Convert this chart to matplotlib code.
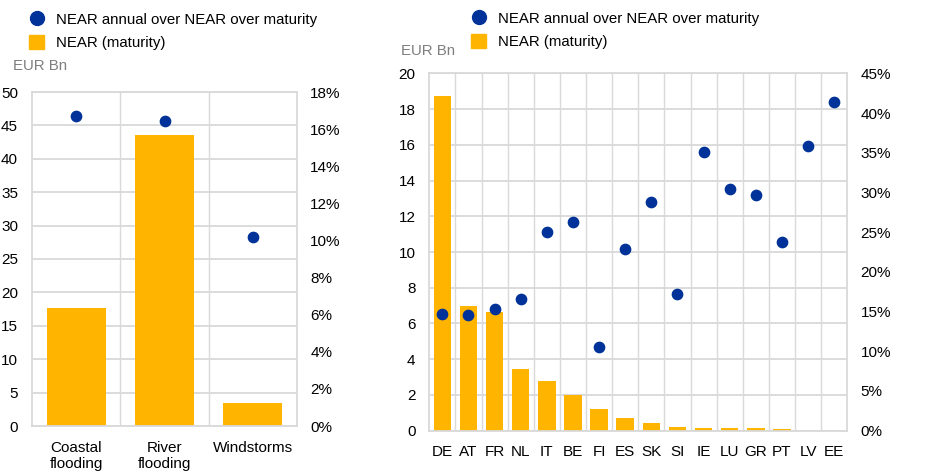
import matplotlib
matplotlib.use('Agg')
import numpy as np
import matplotlib.pyplot as plt
from matplotlib.lines import Line2D
from matplotlib.patches import Patch
from matplotlib.ticker import FuncFormatter

plt.rcParams['font.family'] = ['Liberation Sans', 'DejaVu Sans']
plt.rcParams['font.size'] = 11

# Hazard breakdown (left panel)
hazards = ['Coastal\nflooding', 'River\nflooding', 'Windstorms']
hazardNear = [17.6, 43.6, 3.4]          # EUR Bn, NEAR over maturity
hazardShare = [16.7, 16.45, 10.2]      # %, annual over maturity

# Country breakdown (right panel)
countries = ['DE', 'AT', 'FR', 'NL', 'IT', 'BE', 'FI', 'ES', 'SK', 'SI',
             'IE', 'LU', 'GR', 'PT', 'LV', 'EE']
countryNear = [18.73, 6.98, 6.62, 3.43, 2.78, 2.0, 1.21, 0.71, 0.43, 0.2,
               0.15, 0.15, 0.13, 0.07, 0.01, 0.0]
countryShare = [14.73, 14.53, 15.32, 16.58, 24.98, 26.28, 10.54, 22.84, 28.76,
                17.17, 35.1, 30.44, 29.68, 23.76, 35.9, 41.35]

yellow = '#FFB400'
blue = '#003299'
gridc = '#D9D9D9'
labelGrey = '#7F7F7F'

fig = plt.figure(figsize=(9.31, 4.74), dpi=100)


def panel(rect, cats, near, share, ymax, ystep, rmax, rstep, legAnchor, unitPos, xpad):
    ax = fig.add_axes(rect)
    x = np.arange(len(cats))
    ax.bar(x, near, width=0.67, color=yellow, zorder=2)
    ax.set_xlim(-0.5, len(cats) - 0.5)
    ax.set_ylim(0, ymax)
    ax.set_yticks(np.arange(0, ymax + 0.001, ystep))
    ax.set_xticks(x)
    ax.set_xticklabels(cats)
    ax.set_xticks(np.arange(0.5, len(cats) - 0.5, 1), minor=True)
    ax.grid(axis='y', which='major', color=gridc, lw=1.3, zorder=0)
    ax.grid(axis='x', which='minor', color=gridc, lw=1.0, zorder=0)
    ax.tick_params(which='both', length=0)
    ax.tick_params(axis='y', pad=10)
    ax.tick_params(axis='x', pad=xpad)
    for s in ax.spines.values():
        s.set_color(gridc)
        s.set_linewidth(1.3)

    ax2 = ax.twinx()
    ax2.scatter(x, share, s=55, color=blue, zorder=3)
    ax2.set_ylim(0, rmax)
    ax2.set_yticks(np.arange(0, rmax + 0.001, rstep))
    ax2.yaxis.set_major_formatter(FuncFormatter(lambda v, p: '%d%%' % round(v)))
    ax2.tick_params(length=0, pad=9.5)
    for s in ax2.spines.values():
        s.set_visible(False)

    handles = [Line2D([], [], marker='o', ls='', color=blue, markersize=10),
               Patch(color=yellow)]
    fig.legend(handles, ['NEAR annual over NEAR over maturity', 'NEAR (maturity)'],
               loc='upper left', bbox_to_anchor=legAnchor, frameon=False,
               handlelength=1.0, handleheight=1.0, handletextpad=0.8,
               labelspacing=0.55, borderaxespad=0, fontsize=10.8)
    fig.text(unitPos[0], unitPos[1], 'EUR Bn', color=labelGrey, fontsize=10.8,
             va='center', ha='left')
    return ax


panel([32 / 931, 1 - 426 / 474, 265 / 931, 334 / 474], hazards, hazardNear,
      hazardShare, 50, 5, 18, 2, (23 / 931, 1 - 6 / 474), (13 / 931, 1 - 66 / 474), 11)
panel([429.3 / 931, 1 - 430.7 / 474, 418 / 931, 357.4 / 474], countries, countryNear,
      countryShare, 20, 2, 45, 5, (465 / 931, 1 - 5 / 474), (401 / 931, 1 - 51 / 474), 10.5)

fig.savefig('out.png', dpi=100)
